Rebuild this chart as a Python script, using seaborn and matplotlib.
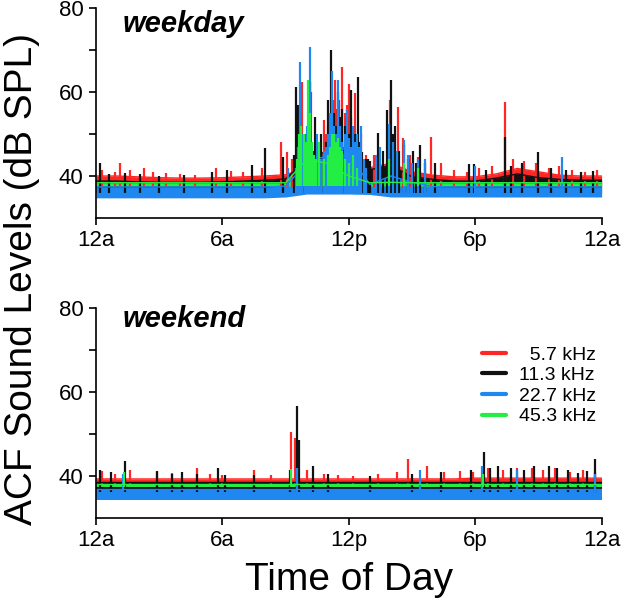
import numpy as np
import pandas as pd
import matplotlib
matplotlib.use("Agg")
import matplotlib.pyplot as plt
from matplotlib.lines import Line2D
import seaborn as sns

sns.set_theme(style="ticks")
plt.rcParams['font.family'] = ['Liberation Sans', 'DejaVu Sans']
plt.rcParams['text.color'] = 'black'
plt.rcParams['xtick.color'] = 'black'
plt.rcParams['ytick.color'] = 'black'

# hourly grid for the noise band of every trace
hours = list(range(25))
freqs = ['5.7 kHz', '11.3 kHz', '22.7 kHz', '45.3 kHz']
leg_labels = ['  5.7 kHz', '11.3 kHz', '22.7 kHz', '45.3 kHz']
colors = ['#ff2626', '#111111', '#1e88f0', '#22ee44']
tick_hours = [0, 6, 12, 18, 24]
tick_names = ['12a', '6a', '12p', '6p', '12a']

# ---- weekday : band low / high per hour (dB SPL)
wd_red_lo = [37.5] * 25
wd_red_hi = [40.0, 40.0, 39.8, 39.6, 39.5, 39.5, 39.6, 39.8, 40.0, 40.3, 42.0, 46.0, 47.0,
             42.0, 43.0, 41.0, 40.2, 39.8, 39.8, 40.5, 41.8, 41.0, 40.2, 40.0, 40.0]
wd_blk_lo = [36.0] * 25
wd_blk_hi = [38.8, 38.8, 38.6, 38.5, 38.5, 38.5, 38.6, 38.8, 39.0, 39.3, 44.0, 46.0, 46.0,
             41.5, 42.5, 39.8, 39.2, 38.8, 38.8, 39.5, 40.5, 39.6, 39.2, 39.0, 39.0]
wd_blu_lo = [34.8, 34.8, 34.8, 34.8, 34.8, 34.8, 34.8, 34.8, 34.8, 35.0, 35.7, 35.7, 35.7,
             35.6, 35.0, 35.0, 35.0, 35.0, 35.0, 35.0, 35.0, 35.0, 35.0, 35.0, 35.0]
wd_blu_hi = [37.4, 37.4, 37.4, 37.4, 37.4, 37.4, 37.4, 37.4, 37.4, 37.6, 43.0, 45.0, 45.0,
             38.0, 40.0, 38.5, 37.5, 37.4, 37.4, 37.4, 37.4, 37.4, 37.4, 37.4, 37.4]
wd_grn_lo = [37.6] * 25
wd_grn_hi = [38.4, 38.4, 38.4, 38.4, 38.4, 38.4, 38.4, 38.4, 38.4, 38.4, 44.0, 43.0, 40.0,
             38.4, 38.5, 38.4, 38.4, 38.4, 38.4, 38.4, 38.4, 38.4, 38.4, 38.4, 38.4]

# ---- weekday : single peaks (hour, dB SPL)
wd_red_t = [0.3, 0.9, 1.15, 1.6, 2.3, 2.7, 3.3, 4.0, 4.7, 5.7, 6.4, 7.0, 7.9, 8.8, 9.05, 9.3,
            9.7, 9.8, 9.9, 10.0, 10.2, 10.4, 10.6, 10.8, 10.9, 11.0, 11.1, 11.25, 11.35,
            11.45, 11.55, 11.7, 11.8, 11.9, 12.0, 12.1, 12.2, 12.3, 12.4, 12.6, 12.8, 13.2,
            13.95, 14.35, 14.55, 14.9, 15.3, 15.9, 16.4, 17.0, 17.6, 18.2, 18.8, 19.4, 19.8,
            20.3, 20.9, 21.5, 22.0, 22.6, 23.2, 23.8]
wd_red_db = [41.5, 41.0, 43.0, 41.5, 41.8, 41.0, 40.8, 40.5, 40.3, 41.8, 41.2, 41.0, 42.0,
             48.2, 45.8, 44.0, 52.0, 62.5, 50.0, 48.0, 60.0, 46.0, 48.0, 53.3, 50.0, 52.0,
             55.0, 58.0, 62.9, 56.0, 58.0, 66.0, 55.0, 57.0, 62.0, 54.0, 52.0, 59.7, 50.0,
             50.0, 45.0, 45.0, 58.0, 56.5, 49.0, 45.0, 44.5, 49.4, 43.0, 41.5, 41.0, 42.0,
             42.5, 57.6, 44.0, 43.5, 43.0, 42.0, 42.5, 41.5, 41.0, 41.5]
wd_blk_t = [0.2, 0.6, 1.4, 2.1, 3.0, 4.2, 5.5, 6.2, 7.4, 8.0, 8.9, 9.4, 9.5, 9.6, 9.7, 9.8,
            9.9, 10.0, 10.15, 10.3, 10.4, 10.5, 10.6, 10.7, 10.8, 10.9, 11.0, 11.15, 11.3,
            11.4, 11.5, 11.6, 11.7, 11.8, 11.9, 12.0, 12.1, 12.2, 12.3, 12.45, 12.55, 12.65,
            12.8, 12.9, 13.0, 13.4, 13.6, 13.8, 14.0, 14.1, 14.2, 14.4, 14.6, 14.8, 15.05,
            15.2, 15.4, 15.6, 16.1, 17.7, 17.95, 18.5, 19.4, 19.7, 20.2, 21.0, 21.6, 22.3,
            23.0, 23.6]
wd_blk_db = [43.0, 40.5, 40.8, 40.5, 40.0, 40.3, 41.0, 41.5, 42.6, 46.6, 44.5, 45.0, 61.3,
             57.0, 52.0, 50.0, 48.0, 50.0, 62.5, 46.0, 54.0, 45.0, 47.0, 50.0, 46.0, 48.0,
             58.0, 70.0, 55.0, 52.0, 60.0, 54.0, 56.0, 52.0, 54.0, 50.0, 60.5, 52.0, 50.0,
             63.7, 48.0, 45.8, 44.0, 44.0, 43.5, 50.2, 46.0, 55.7, 62.9, 50.0, 52.0, 46.0,
             47.5, 44.0, 46.0, 43.0, 47.4, 43.0, 43.0, 42.8, 42.8, 41.5, 49.4, 42.5, 43.0,
             45.8, 42.0, 41.5, 41.0, 41.2]
wd_blu_t = [9.1, 9.5, 9.6, 9.7, 9.8, 9.9, 10.0, 10.1, 10.15, 10.2, 10.3, 10.4, 10.5, 10.6,
            10.7, 10.8, 10.9, 11.0, 11.1, 11.2, 11.3, 11.4, 11.5, 11.6, 11.7, 11.8, 11.9,
            12.0, 12.1, 12.2, 12.3, 12.4, 12.5, 12.6, 12.7, 12.8, 13.3, 13.5, 13.9, 14.1,
            14.3, 14.6, 14.8, 15.0, 15.3, 15.6, 18.0, 22.1]
wd_blu_db = [42.0, 42.0, 47.0, 67.2, 50.0, 46.0, 52.0, 48.0, 70.8, 47.0, 45.0, 44.0, 50.0,
             45.0, 44.0, 46.0, 47.0, 50.0, 55.0, 65.0, 52.0, 50.0, 62.9, 52.0, 48.0, 50.0,
             56.0, 49.0, 47.0, 52.0, 48.0, 50.0, 47.0, 52.0, 44.0, 42.0, 45.0, 47.0, 52.5,
             48.0, 46.0, 48.5, 45.0, 43.0, 44.0, 44.0, 42.5, 44.6]
wd_grn_t = [9.55, 9.65, 9.75, 9.85, 9.95, 10.05, 10.15, 10.25, 10.35, 10.45, 10.6, 10.8,
            11.0, 11.1, 11.2, 11.3, 11.4, 11.5, 11.6, 11.7, 11.8, 12.0, 12.2, 12.4, 13.9,
            14.6, 15.3]
wd_grn_db = [44.0, 50.0, 52.0, 50.0, 48.0, 62.9, 55.0, 48.0, 45.0, 44.0, 48.0, 44.0, 45.0,
             47.0, 50.0, 50.0, 48.0, 49.0, 47.0, 46.0, 44.0, 43.0, 45.0, 42.0, 44.0, 43.0,
             42.0]

# ---- weekend : band low / high per hour
we_red_lo = [37.8] * 25
we_red_hi = [39.3] * 18 + [39.5] * 7
we_blk_lo = [36.3] * 25
we_blk_hi = [38.5] * 25
we_blu_lo = [34.4] * 25
we_blu_hi = [37.0] * 25
we_grn_lo = [37.4] * 25
we_grn_hi = [38.0] * 25

# ---- weekend : single peaks
we_red_t = [0.3, 0.9, 1.6, 2.9, 3.6, 4.8, 5.4, 6.0, 7.5, 8.3, 9.28, 9.45, 10.0, 10.8, 11.5,
            12.2, 13.4, 14.3, 14.8, 15.7, 16.5, 17.3, 17.9, 18.6, 19.3, 20.0, 20.7, 21.2,
            21.8, 22.5, 23.1, 23.7]
we_red_db = [41.2, 40.5, 41.5, 41.0, 40.8, 42.0, 40.5, 40.3, 41.5, 40.2, 50.5, 49.0, 41.5,
             40.5, 40.3, 40.0, 40.5, 41.0, 44.0, 42.4, 41.0, 41.3, 41.0, 42.0, 41.5, 42.0,
             42.0, 41.5, 41.8, 41.0, 41.5, 41.0]
we_blk_t = [0.2, 0.7, 1.37, 2.9, 3.6, 4.1, 4.8, 5.8, 6.1, 7.5, 9.2, 9.52, 9.62, 10.3, 11.0,
            13.0, 15.0, 16.4, 17.8, 18.4, 18.7, 19.1, 19.7, 20.3, 20.8, 21.5, 21.9, 22.4,
            22.9, 23.3, 23.7]
we_blk_db = [41.4, 41.0, 43.6, 41.2, 40.5, 41.0, 40.5, 42.0, 40.2, 40.3, 41.5, 56.6, 48.5,
             42.4, 40.5, 40.0, 40.5, 41.0, 41.5, 45.7, 42.0, 42.5, 42.0, 41.5, 42.5, 42.5,
             42.0, 41.5, 40.8, 41.2, 44.0]
we_blu_t = [1.3, 9.55, 15.4, 18.3, 20.0, 23.7]
we_blu_db = [40.5, 42.0, 41.5, 42.4, 41.5, 40.5]
we_grn_t = [1.35, 9.25, 18.35]
we_grn_db = [41.0, 41.6, 40.5]

panels = [
    ('weekday',
     [(wd_red_lo, wd_red_hi, wd_red_t, wd_red_db), (wd_blk_lo, wd_blk_hi, wd_blk_t, wd_blk_db),
      (wd_blu_lo, wd_blu_hi, wd_blu_t, wd_blu_db), (wd_grn_lo, wd_grn_hi, wd_grn_t, wd_grn_db)]),
    ('weekend',
     [(we_red_lo, we_red_hi, we_red_t, we_red_db), (we_blk_lo, we_blk_hi, we_blk_t, we_blk_db),
      (we_blu_lo, we_blu_hi, we_blu_t, we_blu_db), (we_grn_lo, we_grn_hi, we_grn_t, we_grn_db)]),
]

fig = plt.figure(figsize=(6.4, 6.12), dpi=100)
ax_top = fig.add_axes([0.15, 0.6438, 0.790, 0.343])
ax_bot = fig.add_axes([0.15, 0.1536, 0.790, 0.343])
title_y = [0.886, 0.91]

for i, (ax, (name, series)) in enumerate(zip([ax_top, ax_bot], panels)):
    for (lo, hi, st, sdb), f, c in zip(series, freqs, colors):
        df = pd.DataFrame({'hour': hours, 'lo': lo, 'hi': hi})
        ax.fill_between(df['hour'], df['lo'], df['hi'], color=c, linewidth=0)
        sns.lineplot(data=df, x='hour', y='hi', color=c, lw=1.0, ax=ax)
        # each peak rises from the bottom of its own band
        base = np.interp(st, hours, lo)
        ax.vlines(st, base, sdb, color=c, lw=1.6)
    ax.set_xlim(0, 24)
    ax.set_ylim(30, 80)
    ax.set_xticks(tick_hours)
    ax.set_xticklabels(tick_names)
    ax.set_yticks([40, 60, 80])
    ax.set_yticks([50, 70], minor=True)
    ax.tick_params(which='both', direction='out', length=5, width=1.2, labelsize=16,
                   colors='black', pad=4)
    ax.set_xlabel('')
    ax.set_ylabel('')
    sns.despine(ax=ax)
    for sp in ['left', 'bottom']:
        ax.spines[sp].set_linewidth(1.2)
        ax.spines[sp].set_color('black')
    ax.text(0.053, title_y[i], name, transform=ax.transAxes, fontsize=21,
            fontweight='bold', fontstyle='italic', va='baseline', ha='left', clip_on=False)

handles = [Line2D([0], [0], color=c, lw=3) for c in colors]
ax_bot.legend(handles, leg_labels, loc='center left', bbox_to_anchor=(0.745, 0.63),
              frameon=False, fontsize=14, handlelength=1.2, handletextpad=0.7,
              labelspacing=0.15, borderpad=0)

fig.text(0.034, 0.544, 'ACF Sound Levels (dB SPL)', rotation=90, fontsize=28,
         ha='center', va='center')
fig.text(0.545, 0.052, 'Time of Day', fontsize=28, ha='center', va='center')

fig.savefig('out.png', dpi=100)
